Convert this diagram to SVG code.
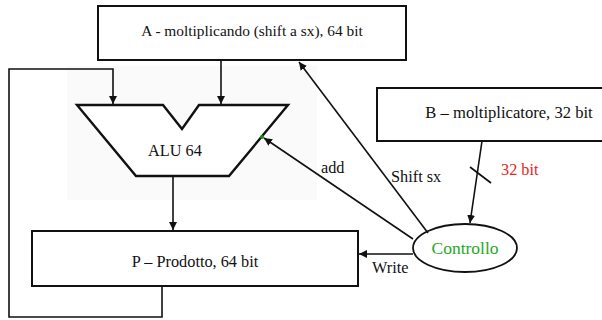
<svg xmlns="http://www.w3.org/2000/svg" width="602" height="320" viewBox="0 0 602 320">
  <style>
    .box { fill: #ffffff; stroke: #111111; stroke-width: 2; }
    .wire { fill: none; stroke: #111111; stroke-width: 1.6; }
    text { font-family: 'Liberation Serif', 'Times New Roman', serif; font-size: 16.3px; fill: #111111; }
  </style>
  <defs>
    <marker id="arr" viewBox="0 0 8 8" refX="8" refY="4" markerWidth="5" markerHeight="5" orient="auto" markerUnits="strokeWidth">
      <path d="M0,0 L8,4 L0,8 Z" fill="#111111"/>
    </marker>
  </defs>

  <rect x="0" y="0" width="602" height="320" fill="#ffffff"/>
  <!-- faint backdrop behind the ALU -->
  <rect x="67" y="66" width="250" height="134" fill="#fafafa"/>

  <g id="A">
    <rect class="box" x="98" y="6" width="308" height="54"/>
    <text x="252" y="36" text-anchor="middle" style="font-size:15.4px">A - moltiplicando (shift a sx), 64 bit</text>
  </g>

  <g id="ALU">
    <polygon points="77,105 163,105 182,129 199,105 288,105 229,176 136,176" fill="#ffffff" stroke="#111111" stroke-width="2.4" stroke-linejoin="miter"/>
    <text x="175" y="156" text-anchor="middle">ALU 64</text>
  </g>

  <g id="B">
    <rect class="box" x="377" y="88" width="240" height="53"/>
    <text x="509" y="118" text-anchor="middle" style="font-size:16.6px">B – moltiplicatore, 32 bit</text>
  </g>

  <g id="P">
    <rect class="box" x="32" y="231" width="326" height="55"/>
    <text x="195" y="267" text-anchor="middle">P – Prodotto, 64 bit</text>
  </g>

  <g id="Controllo">
    <ellipse cx="465" cy="248" rx="52" ry="24" fill="#ffffff" stroke="#111111" stroke-width="1.8"/>
    <text x="465" y="254" text-anchor="middle" style="font-size:17.5px;fill:#22aa22">Controllo</text>
  </g>

  <g id="connectors">
    <!-- P fed back to the ALU -->
    <polyline class="wire" points="162,286 162,317 9,317 9,69 113,69 113,104" marker-end="url(#arr)"/>
    <!-- A to ALU -->
    <line class="wire" x1="221" y1="60" x2="221" y2="104" marker-end="url(#arr)"/>
    <!-- ALU to P -->
    <line class="wire" x1="173" y1="176" x2="173" y2="230" marker-end="url(#arr)"/>
    <!-- control signals -->
    <line class="wire" x1="428" y1="233" x2="299" y2="62" marker-end="url(#arr)"/>
    <line class="wire" x1="413" y1="239" x2="264" y2="138" marker-end="url(#arr)"/>
    <circle cx="262" cy="137" r="2" fill="#1a8a1a"/>
    <line class="wire" x1="413" y1="254" x2="359" y2="254" marker-end="url(#arr)"/>
    <!-- B to Controllo, 32-bit bus -->
    <line class="wire" x1="482" y1="141" x2="470" y2="223" marker-end="url(#arr)"/>
    <line class="wire" x1="470" y1="167" x2="491" y2="183"/>
    <text x="501" y="175" style="fill:#ee2222">32 bit</text>
    <text x="321" y="173">add</text>
    <text x="391" y="182">Shift sx</text>
    <text x="372" y="273">Write</text>
  </g>
</svg>
